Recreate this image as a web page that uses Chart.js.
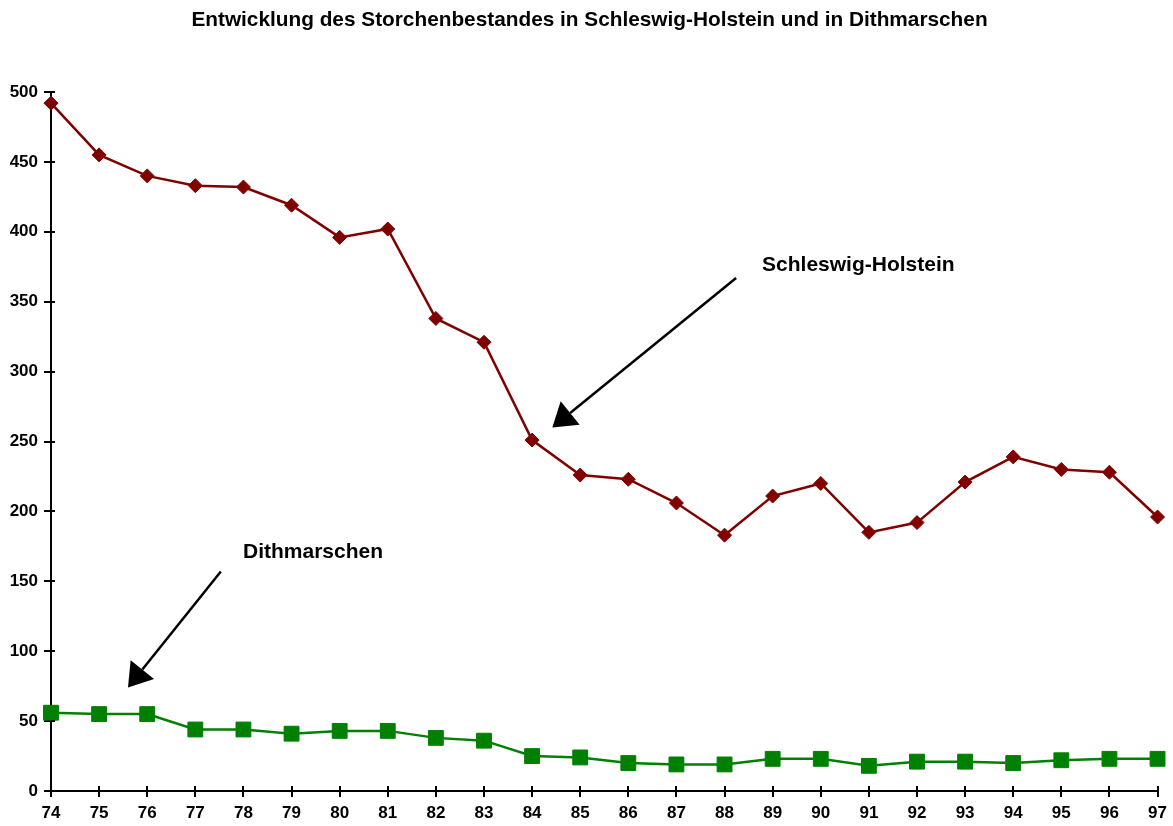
<!DOCTYPE html>
<html lang="de">
<head>
<meta charset="utf-8">
<title>Storchenbestand</title>
<script src="https://cdn.jsdelivr.net/npm/chart.js@4.4.1/dist/chart.umd.min.js"></script>
<style>
  html, body { margin: 0; padding: 0; background: #fff; }
  #wrap { width: 1173px; height: 826px; position: relative; }
</style>
</head>
<body>
<div id="wrap"><canvas id="chart"></canvas></div>
<script>
// Jahre (19xx) und Brutpaare
const years = [74, 75, 76, 77, 78, 79, 80, 81, 82, 83, 84, 85, 86, 87, 88, 89, 90, 91, 92, 93, 94, 95, 96, 97];
const schleswigHolstein = [492, 455, 440, 433, 432, 419, 396, 402, 338, 321, 251, 226, 223, 206, 183, 211, 220, 185, 192, 221, 239, 230, 228, 196];
const dithmarschen = [56, 55, 55, 44, 44, 41, 43, 43, 38, 36, 25, 24, 20, 19, 19, 23, 23, 18, 21, 21, 20, 22, 23, 23];
const yTicks = [0, 50, 100, 150, 200, 250, 300, 350, 400, 450, 500];

const titleText = 'Entwicklung des Storchenbestandes in Schleswig-Holstein und in Dithmarschen';

// Beschriftungen mit Pfeil, in Achsenkoordinaten (Jahr, Anzahl)
const callouts = [
  { text: 'Schleswig-Holstein', label: [88.78, 376], from: [88.24, 367], to: [84.42, 260] },
  { text: 'Dithmarschen', label: [77.99, 171], from: [77.53, 157], to: [75.60, 74] }
];

const FONT = "'Liberation Sans', Arial, Helvetica, sans-serif";

const toPoints = vals => vals.map((v, i) => ({ x: years[i], y: v }));

// Überschrift über die ganze Breite zentriert
const headingPlugin = {
  id: 'heading',
  afterDraw(chart) {
    const ctx = chart.ctx;
    ctx.save();
    ctx.font = 'bold 20.8px ' + FONT;
    ctx.fillStyle = '#000';
    ctx.textAlign = 'center';
    ctx.textBaseline = 'middle';
    ctx.fillText(titleText, chart.width / 2 + 3, 20);
    ctx.restore();
  }
};

// kurze Teilstriche innerhalb der Zeichenfläche + Pfeile mit Text
const extrasPlugin = {
  id: 'extras',
  afterDatasetsDraw(chart) {
    const ctx = chart.ctx;
    const xs = chart.scales.x, ys = chart.scales.y;
    ctx.save();
    ctx.strokeStyle = '#000';
    ctx.lineWidth = 2;
    ctx.beginPath();
    xs.ticks.forEach((t, i) => {
      const px = Math.round(xs.getPixelForTick(i));
      ctx.moveTo(px, ys.bottom);
      ctx.lineTo(px, ys.bottom - 5);
    });
    ys.ticks.forEach((t, i) => {
      const py = Math.round(ys.getPixelForTick(i));
      ctx.moveTo(xs.left, py);
      ctx.lineTo(xs.left + 4, py);
    });
    ctx.stroke();

    callouts.forEach(c => {
      const x1 = xs.getPixelForValue(c.from[0]), y1 = ys.getPixelForValue(c.from[1]);
      const x2 = xs.getPixelForValue(c.to[0]), y2 = ys.getPixelForValue(c.to[1]);
      const ang = Math.atan2(y2 - y1, x2 - x1);
      const headLen = 23, headHalf = 15;
      const bx = x2 - Math.cos(ang) * headLen, by = y2 - Math.sin(ang) * headLen;
      ctx.strokeStyle = '#000';
      ctx.lineWidth = 2.5;
      ctx.beginPath();
      ctx.moveTo(x1, y1);
      ctx.lineTo(bx, by);
      ctx.stroke();
      ctx.fillStyle = '#000';
      ctx.beginPath();
      ctx.moveTo(x2, y2);
      ctx.lineTo(bx + Math.sin(ang) * headHalf, by - Math.cos(ang) * headHalf);
      ctx.lineTo(bx - Math.sin(ang) * headHalf, by + Math.cos(ang) * headHalf);
      ctx.closePath();
      ctx.fill();

      ctx.font = 'bold 21px ' + FONT;
      ctx.textAlign = 'left';
      ctx.textBaseline = 'middle';
      ctx.fillText(c.text, xs.getPixelForValue(c.label[0]), ys.getPixelForValue(c.label[1]));
    });
    ctx.restore();
  }
};

new Chart(document.getElementById('chart'), {
  type: 'line',
  data: {
    datasets: [
      {
        label: 'Schleswig-Holstein',
        data: toPoints(schleswigHolstein),
        borderColor: '#800000',
        backgroundColor: '#800000',
        borderWidth: 2.5,
        pointStyle: 'rectRot',
        pointRadius: 7,
        pointBorderWidth: 1,
        pointBackgroundColor: '#800000',
        pointBorderColor: '#800000',
        tension: 0,
        clip: false
      },
      {
        label: 'Dithmarschen',
        data: toPoints(dithmarschen),
        borderColor: '#008000',
        backgroundColor: '#008000',
        borderWidth: 2.5,
        pointStyle: 'rect',
        pointRadius: 10.5,
        pointBorderWidth: 1,
        pointBackgroundColor: '#008000',
        pointBorderColor: '#008000',
        tension: 0,
        clip: false
      }
    ]
  },
  options: {
    responsive: true,
    maintainAspectRatio: false,
    animation: false,
    layout: { padding: { top: 92, left: 0, right: 14, bottom: 0 } },
    plugins: {
      legend: { display: false },
      tooltip: { enabled: false },
      title: { display: false }
    },
    scales: {
      x: {
        type: 'linear',
        min: years[0],
        max: years[years.length - 1],
        afterBuildTicks: s => { s.ticks = years.map(v => ({ value: v })); },
        afterFit: s => { s.height = 35; },
        grid: { display: true, drawOnChartArea: false, drawTicks: true, tickLength: 6, color: '#000', lineWidth: 2 },
        border: { display: true, color: '#000', width: 2 },
        ticks: {
          color: '#000',
          padding: 6,
          maxRotation: 0,
          autoSkip: false,
          font: { family: FONT, size: 17, weight: 'bold' },
          callback: v => String(v)
        }
      },
      y: {
        type: 'linear',
        min: yTicks[0],
        max: yTicks[yTicks.length - 1],
        afterBuildTicks: s => { s.ticks = yTicks.map(v => ({ value: v })); },
        afterFit: s => { s.width = 51; },
        grid: { display: true, drawOnChartArea: false, drawTicks: true, tickLength: 7, color: '#000', lineWidth: 2 },
        border: { display: true, color: '#000', width: 2 },
        ticks: {
          color: '#000',
          padding: 6,
          font: { family: FONT, size: 17, weight: 'bold' },
          callback: v => String(v)
        }
      }
    }
  },
  plugins: [extrasPlugin, headingPlugin]
});
</script>
</body>
</html>
